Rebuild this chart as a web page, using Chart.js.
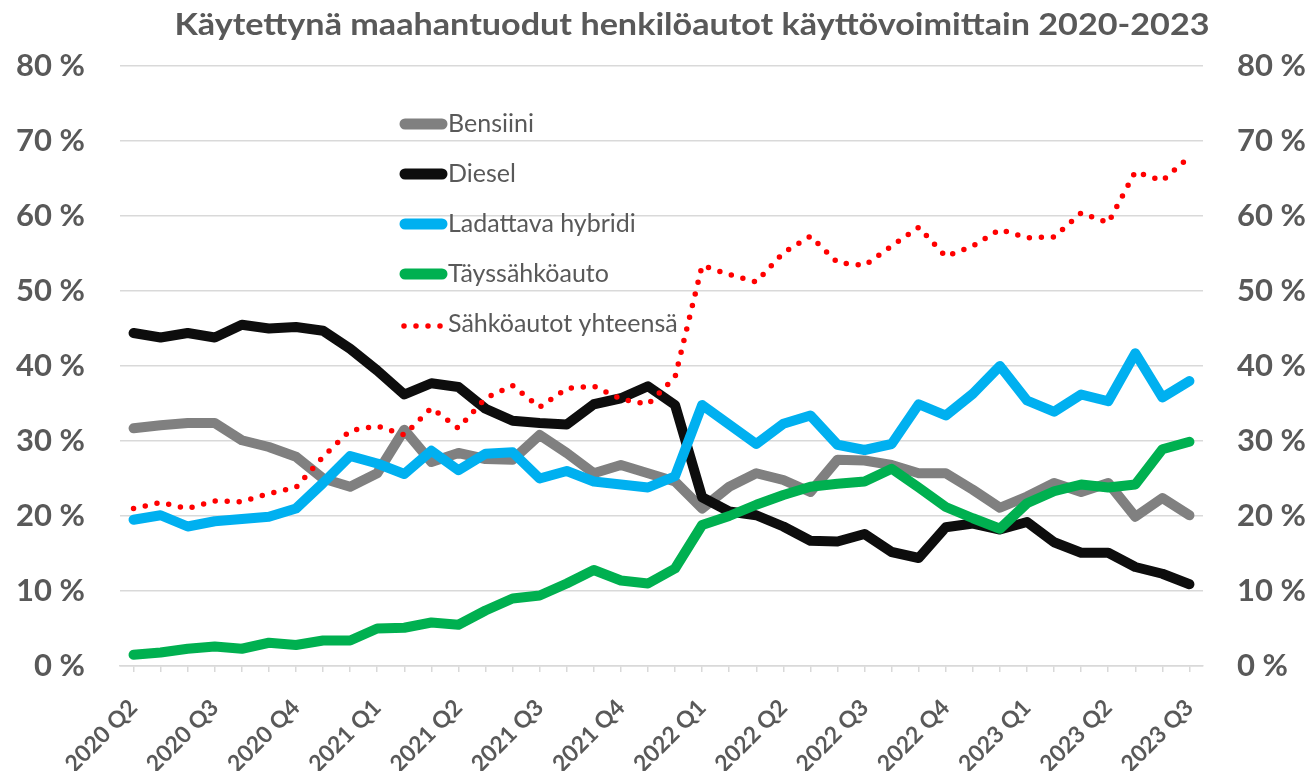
<!DOCTYPE html>
<html>
<head>
<meta charset="utf-8">
<script src="https://cdn.jsdelivr.net/npm/chart.js@4.4.0/dist/chart.umd.min.js"></script>
<style>
html,body{margin:0;padding:0;background:#ffffff;}
#wrap{width:1312px;height:771px;position:relative;}
</style>
</head>
<body>
<div id="wrap"><canvas id="c" width="1312" height="771"></canvas></div>
<script>
const chartTitle = 'Käytettynä maahantuodut henkilöautot käyttövoimittain 2020-2023';

const categories = [
  '2020 Q2','','','2020 Q3','','','2020 Q4','','','2021 Q1','','',
  '2021 Q2','','','2021 Q3','','','2021 Q4','','','2022 Q1','','',
  '2022 Q2','','','2022 Q3','','','2022 Q4','','','2023 Q1','','',
  '2023 Q2','','','2023 Q3'
];

const yTicks = [0, 10, 20, 30, 40, 50, 60, 70, 80];

const seriesNames = ['Bensiini', 'Diesel', 'Ladattava hybridi', 'Täyssähköauto', 'Sähköautot yhteensä'];

const bensiini = [31.7,32.1,32.4,32.4,30.1,29.2,27.9,25.0,23.9,25.7,31.5,27.2,28.4,27.6,27.5,30.8,28.4,25.7,26.8,25.7,
                  24.6,21.0,23.9,25.7,24.8,23.2,27.5,27.4,26.8,25.7,25.7,23.5,21.1,22.6,24.4,23.2,24.4,19.9,22.4,20.1];

const diesel = [44.4,43.8,44.4,43.8,45.5,45.0,45.2,44.7,42.3,39.4,36.2,37.7,37.2,34.3,32.7,32.4,32.2,34.9,35.7,37.3,
                34.8,22.5,20.6,20.1,18.6,16.7,16.6,17.6,15.2,14.4,18.5,19.0,18.2,19.2,16.5,15.1,15.1,13.2,12.3,10.9];

const ladattava = [19.5,20.1,18.6,19.3,19.6,19.9,21.0,24.4,28.0,27.0,25.6,28.7,26.1,28.3,28.5,25.0,26.0,24.6,24.2,23.8,
                   25.3,34.8,32.2,29.6,32.3,33.4,29.5,28.8,29.6,34.9,33.4,36.3,40.0,35.4,33.9,36.2,35.3,41.7,35.8,38.0];

const taysahko = [1.5,1.8,2.3,2.6,2.3,3.1,2.8,3.4,3.4,5.0,5.1,5.8,5.5,7.4,9.0,9.4,11.0,12.8,11.4,11.0,
                  13.0,18.8,20.0,21.5,22.8,23.9,24.3,24.6,26.3,23.8,21.2,19.7,18.3,21.7,23.3,24.2,23.8,24.2,28.9,29.9];

const sahkoYht = [21.0,21.8,21.0,22.0,21.9,23.0,23.8,27.9,31.4,32.0,30.8,34.4,31.7,35.7,37.4,34.5,37.0,37.3,35.6,34.9,
                  38.5,53.4,52.2,51.2,55.1,57.3,53.8,53.4,56.0,58.5,54.6,56.0,58.2,57.1,57.2,60.4,59.1,65.9,64.7,67.9];

const TEXT = '#595959';
const GRID = '#d9d9d9';
const FONT = 'Lato, "Open Sans", "DejaVu Sans", sans-serif';

const solid = (label, data, color, order) => ({
  label, data, borderColor: color, backgroundColor: color,
  borderWidth: 10, pointRadius: 0, pointHoverRadius: 0, tension: 0,
  borderCapStyle: 'round', borderJoinStyle: 'round', fill: false, order
});

const datasets = [
  solid(seriesNames[0], bensiini, '#808080', 5),
  solid(seriesNames[1], diesel, '#0d0d0d', 4),
  solid(seriesNames[2], ladattava, '#00b0f0', 3),
  solid(seriesNames[3], taysahko, '#00b050', 2),
  {
    label: seriesNames[4], data: sahkoYht, borderColor: '#ff0000', backgroundColor: '#ff0000',
    borderWidth: 5.5, borderDash: [0, 12], borderCapStyle: 'round', borderJoinStyle: 'round',
    pointRadius: 0, pointHoverRadius: 0, tension: 0, fill: false, order: 1
  }
];

const titlePlugin = {
  id: 'topTitle',
  afterDraw(chart) {
    const ctx = chart.ctx;
    ctx.save();
    ctx.fillStyle = TEXT;
    ctx.font = 'bold 30px ' + FONT;
    ctx.textAlign = 'center';
    ctx.textBaseline = 'alphabetic';
    const w = ctx.measureText(chartTitle).width;
    const sx = 1035 / w;
    ctx.translate(692, 35);
    ctx.scale(sx, 1);
    ctx.fillText(chartTitle, 0, 0);
    ctx.restore();
  }
};

const legendPlugin = {
  id: 'insideLegend',
  afterDatasetsDraw(chart) {
    const ctx = chart.ctx;
    const area = chart.chartArea;
    const xs = area.left + 285, xe = area.left + 322, textX = area.left + 328;
    const y0 = 124, dy = 50;
    chart.data.datasets.forEach((ds, k) => {
      const y = y0 + k * dy;
      ctx.save();
      ctx.strokeStyle = ds.borderColor;
      ctx.lineCap = 'round';
      ctx.beginPath();
      if (ds.borderDash) {
        ctx.lineWidth = ds.borderWidth;
        ctx.setLineDash(ds.borderDash);
        ctx.moveTo(area.left + 284, y + 2);
        ctx.lineTo(area.left + 322, y + 2);
      } else {
        ctx.lineWidth = 11;
        ctx.moveTo(xs, y);
        ctx.lineTo(xe, y);
      }
      ctx.stroke();
      ctx.setLineDash([]);
      ctx.fillStyle = TEXT;
      ctx.font = '25px ' + FONT;
      ctx.textAlign = 'left';
      ctx.textBaseline = 'middle';
      ctx.fillText(ds.label, textX, y);
      ctx.restore();
    });
  }
};

const tickFmt = v => v + ' %';

new Chart(document.getElementById('c'), {
  type: 'line',
  data: { labels: categories, datasets },
  options: {
    responsive: false,
    animation: false,
    devicePixelRatio: 1,
    layout: { padding: { top: 66, left: 0, right: 0, bottom: 0 } },
    plugins: { legend: { display: false }, title: { display: false }, tooltip: { enabled: false } },
    scales: {
      x: {
        type: 'category',
        offset: true,
        grid: { display: true, drawOnChartArea: false, drawTicks: true, tickLength: 6, color: GRID, lineWidth: 1.5, offset: false },
        border: { display: true, color: GRID, width: 1.5 },
        ticks: {
          autoSkip: false, maxRotation: 45, minRotation: 45, padding: 22,
          color: TEXT, font: { family: FONT, size: 23, weight: 'bold' }
        },
        afterFit(s) { s.height = 105; }
      },
      y: {
        position: 'left', min: 0, max: 80,
        afterBuildTicks(s) { s.ticks = yTicks.map(v => ({ value: v })); },
        grid: { display: true, drawTicks: false, color: GRID, lineWidth: 1.5 },
        border: { display: false },
        ticks: { padding: 35, color: TEXT, callback: tickFmt, font: { family: FONT, size: 31, weight: 'bold' } },
        afterFit(s) { s.width = 120; }
      },
      y2: {
        position: 'right', min: 0, max: 80,
        afterBuildTicks(s) { s.ticks = yTicks.map(v => ({ value: v })); },
        grid: { display: false, drawTicks: false },
        border: { display: false },
        ticks: { padding: 34, color: TEXT, callback: tickFmt, font: { family: FONT, size: 31, weight: 'bold' } },
        afterFit(s) { s.width = 109; }
      }
    }
  },
  plugins: [legendPlugin, titlePlugin]
});
</script>
</body>
</html>
